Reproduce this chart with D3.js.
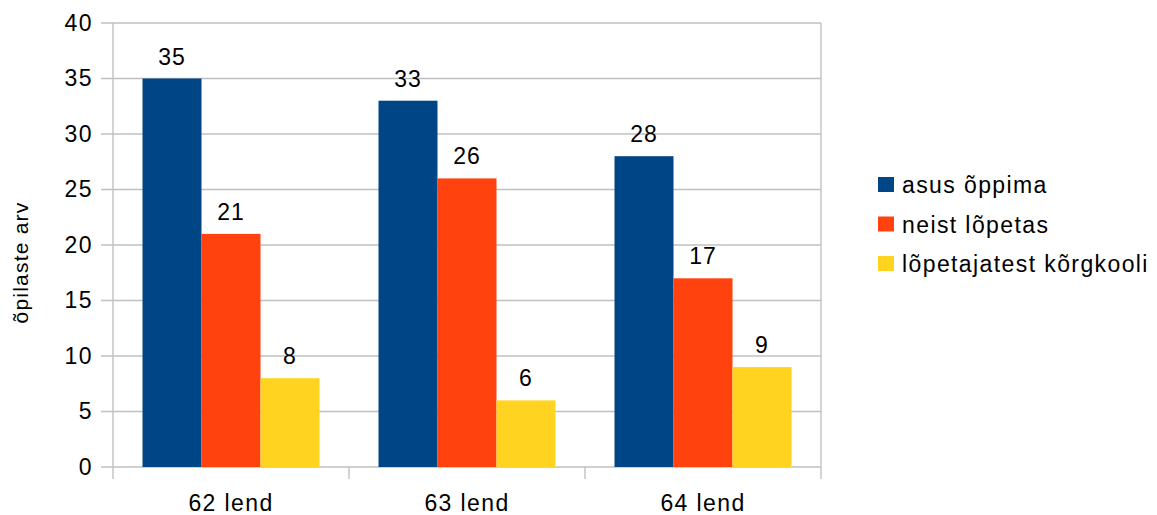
<!DOCTYPE html>
<html>
<head>
<meta charset="utf-8">
<script src="https://cdn.jsdelivr.net/npm/d3@7"></script>
<style>
body { margin: 0; background: #fff; }
text { font-family: "Liberation Sans", Arial, sans-serif; fill: #000; }
</style>
</head>
<body>
<div id="chart"></div>
<script>
var width = 1157,
    height = 515;

// data
var categories = ["62 lend", "63 lend", "64 lend"];
var seriesNames = ["asus õppima", "neist lõpetas", "lõpetajatest kõrgkooli"];
var asusOppima = [35, 33, 28];
var neistLopetas = [21, 26, 17];
var korgkooli = [8, 6, 9];
var yTicks = [0, 5, 10, 15, 20, 25, 30, 35, 40];
var colors = ["#004586", "#ff420e", "#ffd320"];

var seriesValues = [asusOppima, neistLopetas, korgkooli];

// plot area ("top" is taken by window.top, so other names)
var plotLeft = 113, plotRight = 821, plotTop = 23, plotBottom = 467;

var svg = d3.select("#chart")
    .append("svg")
    .attr("width", width)
    .attr("height", height);

var yScale = d3.scaleLinear()
    .domain([0, 40])
    .range([plotBottom, plotTop]);

var xScale = d3.scaleBand()
    .domain(categories)
    .range([plotLeft, plotRight])
    .padding(0);

var xInner = d3.scaleBand()
    .domain(d3.range(seriesNames.length))
    .range([0, xScale.bandwidth()])
    .paddingInner(0)
    .paddingOuter(0.5);

// gridlines
svg.append("g")
    .selectAll("line")
    .data(yTicks)
    .enter()
    .append("line")
    .attr("x1", plotLeft - 12)
    .attr("x2", plotRight)
    .attr("y1", function(d) { return yScale(d); })
    .attr("y2", function(d) { return yScale(d); })
    .attr("stroke", "#c0c0c0")
    .attr("stroke-width", 1.4);

// left and right frame lines
svg.append("line")
    .attr("x1", plotLeft).attr("x2", plotLeft)
    .attr("y1", plotTop).attr("y2", plotBottom + 12)
    .attr("stroke", "#c0c0c0").attr("stroke-width", 1.4);
svg.append("line")
    .attr("x1", plotRight).attr("x2", plotRight)
    .attr("y1", plotTop).attr("y2", plotBottom + 12)
    .attr("stroke", "#c0c0c0").attr("stroke-width", 1.4);

// category boundary ticks
svg.append("g")
    .selectAll("line")
    .data(categories.slice(1))
    .enter()
    .append("line")
    .attr("x1", function(d) { return xScale(d); })
    .attr("x2", function(d) { return xScale(d); })
    .attr("y1", plotBottom)
    .attr("y2", plotBottom + 12)
    .attr("stroke", "#c0c0c0")
    .attr("stroke-width", 1.4);

// y axis labels
var yAxis = d3.axisLeft(yScale)
    .tickValues(yTicks)
    .tickSize(0)
    .tickPadding(20);

var yg = svg.append("g")
    .attr("transform", "translate(" + plotLeft + ",0)")
    .call(yAxis);
yg.select(".domain").remove();
yg.selectAll("text")
    .attr("font-size", "23px")
    .attr("font-family", "Liberation Sans, Arial, sans-serif")
    .style("letter-spacing", "1.4px")
    .attr("fill", "#000");

// x axis labels
var xAxis = d3.axisBottom(xScale)
    .tickSize(0)
    .tickPadding(28);

var xg = svg.append("g")
    .attr("transform", "translate(0," + plotBottom + ")")
    .call(xAxis);
xg.select(".domain").remove();
xg.selectAll("text")
    .attr("font-size", "23px")
    .attr("font-family", "Liberation Sans, Arial, sans-serif")
    .style("letter-spacing", "1.4px")
    .attr("fill", "#000");

// bars
var groups = svg.selectAll(".series")
    .data(seriesValues)
    .enter()
    .append("g")
    .attr("class", "series")
    .attr("fill", function(d, i) { return colors[i]; });

groups.each(function(values, si) {
    var g = d3.select(this);
    g.selectAll("rect")
        .data(values)
        .enter()
        .append("rect")
        .attr("x", function(d, ci) { return xScale(categories[ci]) + xInner(si); })
        .attr("y", function(d) { return yScale(d); })
        .attr("width", xInner.bandwidth())
        .attr("height", function(d) { return yScale(0) - yScale(d); });

    // value labels above the bars
    g.selectAll("text")
        .data(values)
        .enter()
        .append("text")
        .attr("x", function(d, ci) { return xScale(categories[ci]) + xInner(si) + xInner.bandwidth() / 2; })
        .attr("y", function(d) { return yScale(d) - 14; })
        .attr("text-anchor", "middle")
        .attr("font-size", "23px")
        .style("letter-spacing", "1px")
        .style("fill", "#000")
        .text(function(d) { return d; });
});

// y axis title
svg.append("text")
    .attr("transform", "translate(28,262.5) rotate(-90)")
    .attr("text-anchor", "middle")
    .attr("font-size", "21px")
    .style("letter-spacing", "1.2px")
    .text("õpilaste arv");

// legend
var legend = svg.selectAll(".legend")
    .data(seriesNames)
    .enter()
    .append("g")
    .attr("class", "legend")
    .attr("transform", function(d, i) { return "translate(878," + (177 + i * 39.5) + ")"; });

legend.append("rect")
    .attr("width", 16)
    .attr("height", 15)
    .attr("fill", function(d, i) { return colors[i]; });

legend.append("text")
    .attr("x", 24)
    .attr("y", 16)
    .attr("font-size", "23px")
    .style("letter-spacing", "1.4px")
    .text(function(d) { return d; });
</script>
</body>
</html>
